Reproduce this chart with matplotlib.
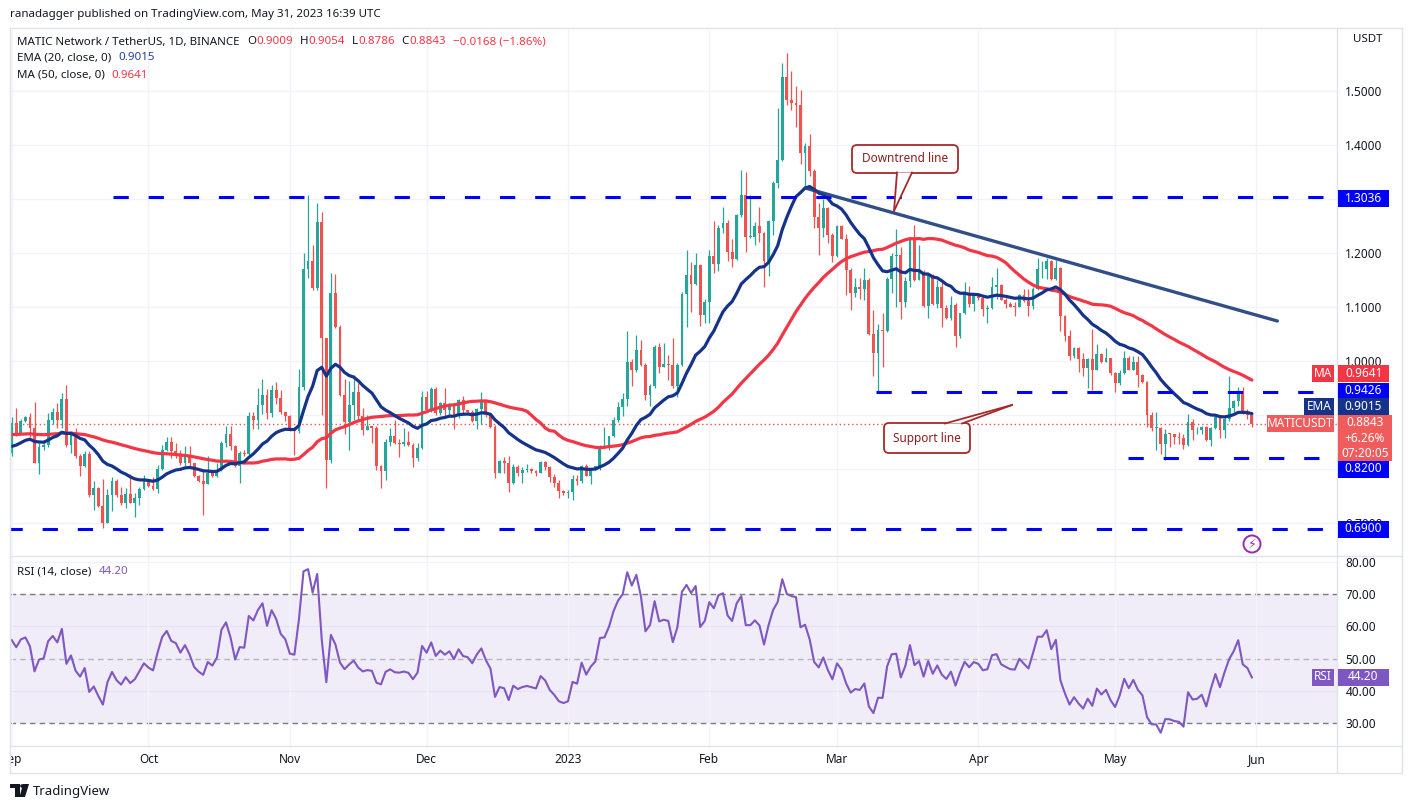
import matplotlib
matplotlib.use("Agg")
import matplotlib.pyplot as plt
import matplotlib.dates as mdates
from matplotlib.patches import Rectangle, FancyBboxPatch, Polygon, Circle
from matplotlib.lines import Line2D
from matplotlib.transforms import IdentityTransform
import numpy as np
import pandas as pd

plt.rcParams['font.family'] = ['Noto Sans', 'DejaVu Sans']

# ---- data (MATIC/USDT daily, 2022-09-01 .. 2023-05-31) ----
start_date = '2022-09-01'
first_open = 0.831

close = [
    .885, .867, .890, .896, .876, .812, .842, .845, .891, .906,
    .892, .930, .845, .868, .825, .807, .828, .752, .765, .732,
    .700, .752, .778, .752, .738, .755, .738, .746, .763, .780,
    .770, .764, .800, .836, .851, .833, .829, .812, .827, .811,
    .788, .779, .773, .793, .787, .799, .849, .865, .843, .807,
    .830, .829, .899, .892, .919, .938, .904, .946, .932, .907,
    .898, .872, .870, .952, 1.170, 1.186, 1.135, 1.258, 1.044, .817,
    1.126, 1.064, .938, .888, .919, .944, .898, .873, .880, .876,
    .806, .796, .851, .862, .848, .846, .850, .845, .820, .840,
    .933, .910, .949, .904, .923, .910, .921, .898, .928, .909,
    .906, .890, .912, .928, .900, .879, .794, .816, .812, .774,
    .804, .794, .798, .800, .797, .794, .814, .805, .785, .774,
    .760, .756, .758, .782, .779, .807, .788, .799, .806, .842,
    .843, .861, .891, .915, .930, .999, .983, 1.021, .993, .938,
    .954, 1.027, .990, .995, .993, .954, .993, 1.125, 1.160, 1.144,
    1.178, 1.086, 1.110, 1.195, 1.180, 1.246, 1.257, 1.203, 1.189, 1.270,
    1.308, 1.230, 1.230, 1.250, 1.237, 1.185, 1.260, 1.331, 1.373, 1.527,
    1.484, 1.478, 1.475, 1.386, 1.398, 1.352, 1.268, 1.246, 1.283, 1.234,
    1.195, 1.251, 1.227, 1.169, 1.126, 1.137, 1.133, 1.151, 1.050, 1.016,
    1.058, 1.057, 1.152, 1.195, 1.197, 1.110, 1.149, 1.228, 1.151, 1.166,
    1.102, 1.160, 1.106, 1.137, 1.098, 1.080, 1.104, 1.046, 1.089, 1.126,
    1.106, 1.123, 1.117, 1.096, 1.099, 1.138, 1.141, 1.114, 1.107, 1.101,
    1.100, 1.123, 1.112, 1.102, 1.133, 1.170, 1.170, 1.185, 1.152, 1.172,
    1.084, 1.046, 1.010, 1.024, 1.004, .988, 1.005, .984, 1.014, .998,
    1.006, .979, .960, .978, 1.006, .984, .998, .975, .962, .901,
    .876, .876, .847, .866, .865, .860, .858, .845, .888, .872,
    .873, .878, .854, .876, .896, .872, .893, .913, .926, .945,
    .907, .9009, .8843,
]
high = [
    .897, .913, .893, .898, .904, .925, .848, .854, .904, .913,
    .923, .941, .956, .870, .876, .828, .833, .833, .778, .768,
    .782, .763, .785, .782, .767, .765, .791, .756, .768, .790,
    .782, .785, .808, .845, .860, .860, .848, .836, .844, .844,
    .812, .790, .798, .824, .799, .811, .853, .881, .881, .845,
    .833, .836, .907, .907, .950, .968, .948, .956, .961, .946,
    .907, .901, .878, .986, 1.201, 1.308, 1.215, 1.294, 1.277, 1.044,
    1.163, 1.162, 1.067, .967, .963, .974, .959, .914, .900, .878,
    .881, .808, .857, .876, .891, .857, .877, .870, .848, .848,
    .945, .945, .952, .953, .925, .951, .923, .923, .931, .936,
    .910, .910, .914, .943, .931, .901, .882, .818, .823, .824,
    .810, .808, .804, .809, .802, .799, .816, .816, .807, .791,
    .780, .761, .762, .790, .790, .808, .809, .799, .807, .845,
    .879, .862, .897, .925, .941, 1.057, 1.004, 1.049, 1.039, .996,
    .958, 1.030, 1.033, 1.033, 1.012, 1.044, .996, 1.128, 1.206, 1.183,
    1.201, 1.180, 1.116, 1.206, 1.259, 1.252, 1.286, 1.262, 1.227, 1.273,
    1.354, 1.350, 1.308, 1.258, 1.286, 1.240, 1.262, 1.334, 1.469, 1.552,
    1.570, 1.538, 1.510, 1.503, 1.404, 1.421, 1.356, 1.293, 1.300, 1.285,
    1.237, 1.253, 1.252, 1.235, 1.172, 1.154, 1.154, 1.172, 1.154, 1.095,
    1.069, 1.090, 1.157, 1.201, 1.245, 1.212, 1.157, 1.231, 1.252, 1.216,
    1.169, 1.164, 1.162, 1.151, 1.150, 1.104, 1.120, 1.108, 1.090, 1.147,
    1.139, 1.126, 1.126, 1.123, 1.104, 1.157, 1.172, 1.143, 1.117, 1.110,
    1.110, 1.125, 1.133, 1.133, 1.137, 1.191, 1.186, 1.191, 1.187, 1.187,
    1.174, 1.086, 1.058, 1.027, 1.027, 1.016, 1.006, 1.059, 1.032, 1.016,
    1.024, 1.006, .981, .983, 1.019, 1.009, 1.009, 1.009, .977, .963,
    .907, .907, .879, .874, .868, .866, .869, .866, .902, .894,
    .878, .881, .881, .879, .900, .897, .900, .973, .928, .952,
    .953, .912, .9054,
]
low = [
    .824, .861, .865, .888, .860, .811, .791, .836, .842, .883,
    .876, .876, .842, .830, .820, .788, .805, .749, .725, .730,
    .691, .700, .723, .749, .734, .728, .737, .712, .734, .762,
    .767, .762, .756, .799, .833, .820, .820, .808, .806, .803,
    .785, .777, .715, .773, .786, .786, .796, .842, .835, .805,
    .775, .825, .826, .875, .875, .903, .893, .896, .921, .902,
    .890, .870, .826, .867, .947, 1.154, 1.132, 1.132, .901, .765,
    .811, 1.061, .935, .866, .836, .891, .891, .864, .877, .848,
    .799, .765, .781, .843, .846, .822, .844, .844, .805, .815,
    .838, .907, .907, .901, .901, .898, .899, .874, .895, .905,
    .904, .887, .874, .883, .897, .876, .784, .793, .794, .758,
    .772, .787, .775, .795, .794, .787, .793, .799, .776, .768,
    .746, .752, .747, .743, .771, .775, .787, .773, .799, .799,
    .840, .836, .859, .888, .898, .917, .955, .981, .992, .928,
    .917, .951, .978, .990, .965, .951, .934, .991, 1.063, 1.092,
    1.141, 1.066, 1.071, 1.071, 1.163, 1.168, 1.237, 1.185, 1.175, 1.188,
    1.267, 1.203, 1.229, 1.215, 1.220, 1.138, 1.158, 1.234, 1.320, 1.370,
    1.475, 1.466, 1.434, 1.366, 1.323, 1.343, 1.246, 1.197, 1.231, 1.219,
    1.184, 1.194, 1.226, 1.123, 1.095, 1.119, 1.115, 1.114, 1.048, .972,
    .944, .990, 1.055, 1.126, 1.101, 1.078, 1.101, 1.137, 1.148, 1.157,
    1.101, 1.081, 1.104, 1.098, 1.064, 1.078, 1.077, 1.027, 1.043, 1.088,
    1.101, 1.093, 1.113, 1.083, 1.070, 1.096, 1.116, 1.114, 1.098, 1.101,
    1.084, 1.101, 1.110, 1.083, 1.096, 1.132, 1.155, 1.152, 1.150, 1.150,
    1.057, 1.038, 1.002, 1.007, .981, .973, .950, .947, .983, .996,
    .998, .975, .944, .957, .977, .983, .983, .953, .959, .878,
    .870, .836, .829, .818, .842, .847, .846, .838, .844, .855,
    .865, .865, .852, .843, .874, .858, .858, .889, .907, .917,
    .903, .893, .8786,
]

# indicator warm-up levels read at the left edge of the chart
ema_seed = 0.838
ma_seed = 0.864
rsi_seed_gain = 0.016
rsi_seed_loss = 0.016

# horizontal levels drawn on the chart: (price, from, to)
levels = [
    (1.3036, '2022-09-23 05:00', '2023-06-19 00:00'),
    (0.9426, '2023-03-09 16:00', '2023-06-15 00:00'),
    (0.8200, '2023-05-03 19:00', '2023-06-19 00:00'),
    (0.6900, '2022-08-31 00:00', '2023-06-19 00:00'),
]
trend_dates = ['2023-02-22 00:00', '2023-06-05 14:00']
trend_prices = [1.321, 1.0746]

month_starts = ['2022-09-01', '2022-10-01', '2022-11-01', '2022-12-01', '2023-01-01',
                '2023-02-01', '2023-03-01', '2023-04-01', '2023-05-01', '2023-06-01']
month_labels = ['Sep', 'Oct', 'Nov', 'Dec', '2023', 'Feb', 'Mar', 'Apr', 'May', 'Jun']

price_ticks = [0.7, 0.8, 0.9, 1.0, 1.1, 1.2, 1.3, 1.4, 1.5]
hidden_ticks = [0.8, 0.9, 1.3]   # covered by the price tags in the original
rsi_ticks = [30, 40, 50, 60, 70, 80]
rsi_last = 44.20
ema_last = 0.9015
ma_last = 0.9641

UP = '#26a69a'
DOWN = '#ef5350'
EMA_C = '#15338a'
MA_C = '#f23645'
RSI_C = '#7e57c2'
LEVEL_C = '#0000ff'
TXT = '#131722'
GRID = '#f0f3fa'
FRAME = '#e0e3eb'
NOTE_C = '#a52a2a'

W, H = 1411, 809


def dnum(s):
    return mdates.date2num(pd.Timestamp(s))


# ---- derived series ----
c = np.array(close)
o = np.array([first_open] + close[:-1])
hi = np.maximum(np.array(high), np.maximum(o, c))
lo = np.minimum(np.array(low), np.minimum(o, c))
dates = pd.date_range(start_date, periods=len(close), freq='D')
x = mdates.date2num(dates)

ema = []
prev = ema_seed
for v in close:
    prev = prev + 2.0 / 21.0 * (v - prev)
    ema.append(prev)

hist = [ma_seed] * 49 + list(close)
ma = [np.mean(hist[i:i + 50]) for i in range(len(close))]

rsi = []
g, l = rsi_seed_gain, rsi_seed_loss
prev = first_open
for v in close:
    ch = v - prev
    g = (g * 13 + max(ch, 0)) / 14
    l = (l * 13 + max(-ch, 0)) / 14
    rsi.append(100 - 100 / (1 + g / l))
    prev = v


def px(xp, yp):
    # top-left pixel coords -> display coords
    return (xp, H - yp)


fig = plt.figure(figsize=(W / 100, H / 100), dpi=100)
fig.patch.set_facecolor('white')
ax = fig.add_axes([10 / W, 1 - 555 / H, 1327 / W, 525 / H])
ax_rsi = fig.add_axes([10 / W, 1 - 746 / H, 1327 / W, 189 / H], sharex=ax)
ax_lbl = fig.add_axes([10 / W, 1 - 773 / H, 1327 / W, 27 / H], sharex=ax)

ax.set_xlim(dnum('2022-08-31 15:00'), dnum('2023-06-18 16:00'))
ax.set_ylim(0.6413, 1.6135)
ax_rsi.set_ylim(22.9, 81.5)

for a in (ax, ax_rsi):
    for s in a.spines.values():
        s.set_visible(False)
    a.xaxis.set_major_locator(mdates.MonthLocator())
    a.tick_params(axis='x', length=0, labelbottom=False)
    a.grid(True, axis='x', color=GRID, lw=1)
    a.yaxis.tick_right()
    a.tick_params(axis='y', length=0, pad=6, labelsize=8.5, labelcolor=TXT)

ax.set_yticks(price_ticks)
ax.set_yticklabels(['' if t in hidden_ticks else '%.4f' % t for t in price_ticks])
for t in price_ticks:
    ax.axhline(t, color=GRID, lw=1, zorder=0)

ax_rsi.set_yticks(rsi_ticks)
ax_rsi.set_yticklabels(['%.2f' % t for t in rsi_ticks])
for t in (40, 60, 80):
    ax_rsi.axhline(t, color=GRID, lw=1, zorder=0)

# candles
cols = np.where(c >= o, UP, DOWN)
ax.vlines(x, lo, hi, colors=cols, lw=0.9, zorder=3)
body = np.maximum(np.abs(c - o), 0.0015)
ax.bar(x, body, bottom=np.minimum(o, c), width=0.62, color=cols, lw=0, zorder=4)

ax.plot(x, ma, color=MA_C, lw=2.3, zorder=5, solid_capstyle='round')
ax.plot(x, ema, color=EMA_C, lw=2.3, zorder=6, solid_capstyle='round')

# drawn levels and trend line
for p, d0, d1 in levels:
    ax.plot([dnum(d0), dnum(d1)], [p, p], color=LEVEL_C,
            lw=2.2, dashes=(5, 6.5), zorder=7, solid_capstyle='butt')
ax.plot([dnum(d) for d in trend_dates], trend_prices, color='#1f3f7f',
        lw=2.4, alpha=0.92, zorder=7, solid_capstyle='round')
ax.axhline(close[-1], color=DOWN, lw=1, ls=(0, (1, 2)), zorder=2)

# RSI
ax_rsi.axhspan(30, 70, color=RSI_C, alpha=0.1, lw=0, zorder=0)
ax_rsi.axhline(70, color='#787b86', lw=1, ls=(0, (4, 3)), zorder=1)
ax_rsi.axhline(30, color='#787b86', lw=1, ls=(0, (4, 3)), zorder=1)
ax_rsi.axhline(50, color='#b2b5be', lw=1, ls=(0, (4, 3)), zorder=1)
ax_rsi.plot(x, rsi, color=RSI_C, lw=1.5, zorder=3)

# month labels (clipped at the left like the original)
ax_lbl.set_ylim(0, 1)
ax_lbl.axis('off')
for d, lab in zip(month_starts, month_labels):
    ax_lbl.text(dnum(d), 0.5, lab, ha='center', va='center',
                fontsize=8.5, color=TXT, clip_on=True,
                fontweight='bold' if lab == '2023' else 'normal')

# frame lines
for seg in [((10, 28), (1402, 28)), ((10, 556), (1402, 556)), ((10, 746), (1402, 746)),
            ((10, 773), (1402, 773)), ((10, 28), (10, 773)), ((1337, 28), (1337, 773)),
            ((1402, 28), (1402, 773))]:
    (x0, y0), (x1, y1) = seg
    fig.add_artist(Line2D([x0, x1], [H - y0, H - y1], color=FRAME, lw=1,
                          transform=IdentityTransform(), zorder=1))

# header texts
renderer = fig.canvas.get_renderer()


def text_run(xp, yp, parts, size=8.3):
    for s, col, gap in parts:
        t = fig.text(xp / W, 1 - yp / H, s, color=col, fontsize=size, ha='left', va='center')
        xp += t.get_window_extent(renderer=renderer).width + gap


text_run(10, 14, [('ranadagger published on TradingView.com, May 31, 2023 16:39 UTC', TXT, 0)])
text_run(17, 42, [('MATIC Network / TetherUS, 1D, BINANCE', TXT, 8),
                  ('O', TXT, 0), ('%.4f' % o[-1], MA_C, 7),
                  ('H', TXT, 0), ('%.4f' % high[-1], MA_C, 7),
                  ('L', TXT, 0), ('%.4f' % low[-1], MA_C, 7),
                  ('C', TXT, 0), ('%.4f' % close[-1], MA_C, 7),
                  ('\u22120.0168 (\u22121.86%)', MA_C, 0)])
text_run(17, 58, [('EMA (20, close, 0)', TXT, 7), ('%.4f' % ema_last, '#1f3fa0', 0)])
text_run(17, 75, [('MA (50, close, 0)', TXT, 7), ('%.4f' % ma_last, MA_C, 0)])
text_run(17, 572, [('RSI (14, close)', TXT, 7), ('%.2f' % rsi_last, RSI_C, 0)])
fig.text(1353 / W, 1 - 40 / H, 'USDT', fontsize=8.3, color=TXT, ha='left', va='center')


# right-side price labels
def tag(x0, x1, yc, hgt, col, lines, size=8.5, txtcol='white'):
    fig.add_artist(Rectangle(px(x0, yc + hgt / 2), x1 - x0, hgt, facecolor=col,
                             edgecolor='none', transform=IdentityTransform(), zorder=8))
    n = len(lines)
    for i, s in enumerate(lines):
        yy = yc - hgt / 2 + hgt * (i + 0.5) / n
        fig.text((x0 + x1) / 2 / W, 1 - yy / H, s, fontsize=size, color=txtcol,
                 ha='center', va='center', zorder=9)


tag(1338, 1389, 198, 17, LEVEL_C, ['1.3036'])
tag(1312, 1334, 373.5, 17, MA_C, ['MA'])
tag(1338, 1389, 373.5, 17, MA_C, ['%.4f' % ma_last])
tag(1338, 1389, 391, 17, LEVEL_C, ['0.9426'])
tag(1304, 1334, 406.5, 17, EMA_C, ['EMA'])
tag(1338, 1389, 406.5, 17, EMA_C, ['%.4f' % ema_last])
tag(1267, 1334, 423.5, 17, '#f05b5b', ['MATICUSDT'])
tag(1338, 1392, 438, 46, '#f05b5b', ['%.4f' % close[-1], '+6.26%', '07:20:05'])
tag(1338, 1389, 469, 17, LEVEL_C, ['0.8200'])
tag(1338, 1389, 529, 17, LEVEL_C, ['0.6900'])
tag(1312, 1334, 677, 17, RSI_C, ['RSI'])
tag(1338, 1389, 677, 17, RSI_C, ['%.2f' % rsi_last])


# callouts
def callout(x0, y0, x1, y1, tip, base, label):
    box = FancyBboxPatch(px(x0, y1), x1 - x0, y1 - y0,
                         boxstyle='round,pad=0,rounding_size=5', facecolor='white',
                         edgecolor=NOTE_C, lw=1.3, transform=IdentityTransform(), zorder=10)
    fig.add_artist(box)
    tri = Polygon([px(*base[0]), px(*tip), px(*base[1])], closed=True, facecolor='white',
                  edgecolor='none', transform=IdentityTransform(), zorder=11)
    fig.add_artist(tri)
    for b in base:
        fig.add_artist(Line2D([b[0], tip[0]], [H - b[1], H - tip[1]], color=NOTE_C, lw=1.3,
                              transform=IdentityTransform(), zorder=12))
    fig.text((x0 + x1) / 2 / W, 1 - (y0 + y1) / 2 / H, label, fontsize=8.5, color='#8b1f1f',
             ha='center', va='center', zorder=13)


callout(852, 145, 958, 173, (894, 211), [(897, 172.5), (912, 172.5)], 'Downtrend line')
callout(884, 423, 970, 453, (1012, 405), [(945, 423.5), (962, 423.5)], 'Support line')

# lightning icon
fig.add_artist(Circle(px(1252, 544), 8.5, facecolor='white', edgecolor='#9c27b0', lw=1.4,
                      transform=IdentityTransform(), zorder=10))
fig.text(1252 / W, 1 - 544 / H, '\u26a1', fontsize=9, color='#9c27b0', ha='center',
         va='center', family='DejaVu Sans', zorder=11)

# TradingView logo
for poly in ([(10, 784), (20, 784), (20, 797), (15, 797), (15, 788), (10, 788)],
             [(23, 784), (29, 784), (25, 797), (19.5, 797)]):
    fig.add_artist(Polygon([px(*p) for p in poly], closed=True, facecolor=TXT,
                           edgecolor='none', transform=IdentityTransform()))
fig.add_artist(Circle(px(22, 786), 1.8, facecolor=TXT, edgecolor='none',
                      transform=IdentityTransform()))
fig.text(33 / W, 1 - 791 / H, 'TradingView', fontsize=9.5, color=TXT, ha='left', va='center')

fig.savefig('out.png', dpi=100, facecolor='white')
